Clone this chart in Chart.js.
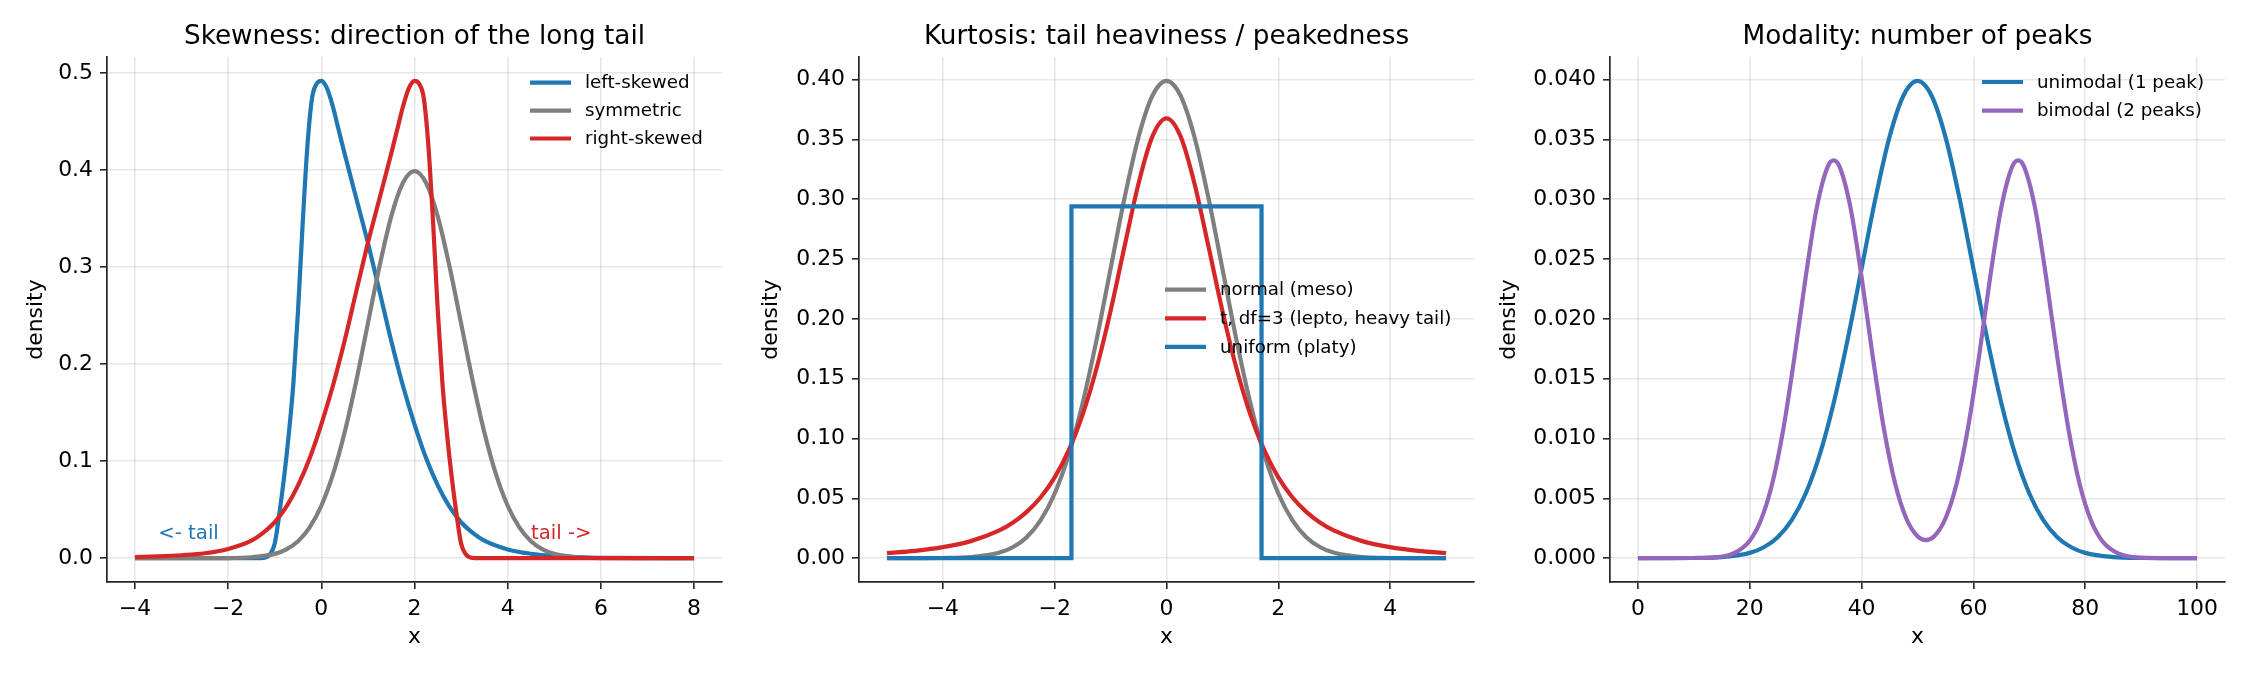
<!DOCTYPE html>
<html>
<head>
<meta charset="utf-8">
<title>Distribution shape</title>
<script src="https://cdn.jsdelivr.net/npm/chart.js@4.4.1/dist/chart.umd.min.js"></script>
<style>
    html, body { margin: 0; padding: 0; background: #ffffff; }
    #figure { position: relative; width: 2250px; height: 675px; overflow: hidden; }
    #figure canvas { position: absolute; top: 0; }
</style>
</head>
<body>
<div id="figure">
    <canvas id="skewChart" width="750" height="675" style="left:0px"></canvas>
    <canvas id="kurtChart" width="750" height="675" style="left:740px"></canvas>
    <canvas id="modeChart" width="760" height="675" style="left:1490px"></canvas>
</div>
<script>
// --- panel 1: skewness ---
const skewLeftX = [-4, -2, -1.5, -1.3, -1.2, -1.1, -1.0, -0.9, -0.8, -0.7, -0.6, -0.5, -0.4, -0.3, -0.2, -0.1, 0, 0.125, 0.25, 0.375, 0.5, 0.75, 1.0, 1.25, 1.5, 1.75, 2.0, 2.25, 2.5, 2.75, 3.0, 3.25, 3.5, 4.0, 4.5, 5.0, 5.5, 6, 8];
const skewLeftY = [0, 0, 0, 0, 0.0006, 0.004, 0.015, 0.046, 0.083, 0.127, 0.18, 0.255, 0.345, 0.424, 0.474, 0.489, 0.492, 0.484, 0.465, 0.441, 0.417, 0.371, 0.325, 0.275, 0.224, 0.178, 0.138, 0.103, 0.075, 0.053, 0.037, 0.026, 0.018, 0.009, 0.0045, 0.002, 0.001, 0.0003, 0];
const symmetricX = [-4, -2, -1.5, -1, -0.75, -0.5, -0.25, 0, 0.25, 0.5, 0.75, 1, 1.25, 1.5, 1.75, 2, 2.25, 2.5, 2.75, 3, 3.25, 3.5, 3.75, 4, 4.25, 4.5, 4.75, 5, 5.5, 6, 8];
const symmetricY = [0, 0.0001, 0.0009, 0.0044, 0.0091, 0.0175, 0.0317, 0.054, 0.0863, 0.1295, 0.1826, 0.242, 0.3011, 0.3521, 0.3867, 0.3989, 0.3867, 0.3521, 0.3011, 0.242, 0.1826, 0.1295, 0.0863, 0.054, 0.0317, 0.0175, 0.0091, 0.0044, 0.0009, 0.0001, 0];
const skewRightX = [-4, -3.5, -3, -2.5, -2, -1.5, -1.25, -1, -0.75, -0.5, -0.25, 0, 0.25, 0.5, 0.75, 1, 1.25, 1.5, 1.625, 1.75, 1.875, 2, 2.1, 2.2, 2.3, 2.4, 2.5, 2.6, 2.7, 2.8, 2.9, 3.0, 3.1, 3.2, 3.3, 3.5, 4, 8];
const skewRightY = [0.001, 0.0018, 0.003, 0.005, 0.0095, 0.018, 0.026, 0.037, 0.053, 0.075, 0.103, 0.138, 0.178, 0.224, 0.275, 0.325, 0.371, 0.417, 0.441, 0.465, 0.484, 0.492, 0.489, 0.474, 0.424, 0.345, 0.255, 0.18, 0.127, 0.083, 0.046, 0.015, 0.004, 0.0006, 0, 0, 0, 0];
const skewXTicks = [-4, -2, 0, 2, 4, 6, 8];
const skewYTicks = [0, 0.1, 0.2, 0.3, 0.4, 0.5];

// --- panel 2: kurtosis ---
const kurtX = [-5, -4.5, -4, -3.5, -3, -2.75, -2.5, -2.25, -2, -1.75, -1.5, -1.25, -1, -0.75, -0.5, -0.25, 0, 0.25, 0.5, 0.75, 1, 1.25, 1.5, 1.75, 2, 2.25, 2.5, 2.75, 3, 3.5, 4, 4.5, 5];
const normalY = [0, 0.00002, 0.00013, 0.00087, 0.00443, 0.00909, 0.01753, 0.03174, 0.05399, 0.08628, 0.12952, 0.18265, 0.24197, 0.30114, 0.35207, 0.38667, 0.39894, 0.38667, 0.35207, 0.30114, 0.24197, 0.18265, 0.12952, 0.08628, 0.05399, 0.03174, 0.01753, 0.00909, 0.00443, 0.00087, 0.00013, 0.00002, 0];
const heavyTailY = [0.00422, 0.00612, 0.00916, 0.01422, 0.0230, 0.02965, 0.0387, 0.0509, 0.0675, 0.0900, 0.1200, 0.1589, 0.2067, 0.2607, 0.3132, 0.3527, 0.3676, 0.3527, 0.3132, 0.2607, 0.2067, 0.1589, 0.1200, 0.0900, 0.0675, 0.0509, 0.0387, 0.02965, 0.0230, 0.01422, 0.00916, 0.00612, 0.00422];
const uniformX = [-5, -1.7, -1.7, 1.7, 1.7, 5];
const uniformY = [0, 0, 0.294, 0.294, 0, 0];
const kurtXTicks = [-4, -2, 0, 2, 4];
const kurtYTicks = [0, 0.05, 0.10, 0.15, 0.20, 0.25, 0.30, 0.35, 0.40];

// --- panel 3: modality ---
const unimodalX = [0, 5, 10, 15, 20, 22.5, 25, 27.5, 30, 32.5, 35, 37.5, 40, 42.5, 45, 47.5, 50, 52.5, 55, 57.5, 60, 62.5, 65, 67.5, 70, 72.5, 75, 77.5, 80, 85, 90, 95, 100];
const unimodalY = [0, 0, 0.00001, 0.00009, 0.00044, 0.00091, 0.00175, 0.00317, 0.0054, 0.00863, 0.01295, 0.01826, 0.0242, 0.03011, 0.03521, 0.03867, 0.03989, 0.03867, 0.03521, 0.03011, 0.0242, 0.01826, 0.01295, 0.00863, 0.0054, 0.00317, 0.00175, 0.00091, 0.00044, 0.00009, 0.00001, 0, 0];
const bimodalX = [0, 10, 14, 17, 20, 22, 24, 26, 28, 30, 32, 34, 35, 36, 38, 40, 42, 44, 46, 48, 50, 51.5, 53, 55, 57, 59, 61, 63, 65, 67, 68, 69, 71, 73, 75, 77, 79, 81, 83, 86, 90, 95, 100];
const bimodalY = [0, 0.00001, 0.00007, 0.00037, 0.00146, 0.00318, 0.00619, 0.01079, 0.01683, 0.02349, 0.02934, 0.03279, 0.03325, 0.03279, 0.02934, 0.02349, 0.01683, 0.0108, 0.00623, 0.00331, 0.00183, 0.00151, 0.00183, 0.00331, 0.00623, 0.0108, 0.01683, 0.02349, 0.02934, 0.03279, 0.03325, 0.03279, 0.02934, 0.02349, 0.01683, 0.01079, 0.00619, 0.00318, 0.00146, 0.00037, 0.00004, 0, 0];
const modeXTicks = [0, 20, 40, 60, 80, 100];
const modeYTicks = [0, 0.005, 0.010, 0.015, 0.020, 0.025, 0.030, 0.035, 0.040];

const BLUE = '#1f77b4';
const GREY = '#7f7f7f';
const RED = '#d62728';
const PURPLE = '#9467bd';
const GRID = 'rgba(176, 176, 176, 0.3)';
const SPINE = '#262626';
const FONT = '"DejaVu Sans", sans-serif';
const BASE_SIZE = 21.9;

Chart.defaults.font.family = FONT;
Chart.defaults.color = '#000';

function fmtTick(value, decimals) {
    return value.toFixed(decimals).replace('-', '\u2212');
}

function toPoints(xs, ys) {
    return xs.map(function (x, i) { return { x: x, y: ys[i] }; });
}

function curve(label, xs, ys, color, extra) {
    return Object.assign({
        label: label,
        data: toPoints(xs, ys),
        borderColor: color,
        backgroundColor: color,
        borderWidth: 4.2,
        borderJoinStyle: 'round',
        pointRadius: 0,
        fill: false,
        cubicInterpolationMode: 'monotone'
    }, extra || {});
}

// title drawn above the plot area, centred on it
const panelTitlePlugin = {
    id: 'panelTitle',
    afterDraw(chart, args, opts) {
        const { ctx, chartArea } = chart;
        ctx.save();
        ctx.font = '26.3px ' + FONT;
        ctx.fillStyle = '#000';
        ctx.textAlign = 'center';
        ctx.textBaseline = 'alphabetic';
        ctx.fillText(opts.text, (chartArea.left + chartArea.right) / 2, 44);
        ctx.restore();
    }
};

// frameless legend like matplotlib's
const panelLegendPlugin = {
    id: 'panelLegend',
    afterDatasetsDraw(chart, args, opts) {
        const ctx = chart.ctx;
        ctx.save();
        ctx.font = '18.25px ' + FONT;
        ctx.textAlign = 'left';
        ctx.textBaseline = 'middle';
        chart.data.datasets.forEach(function (ds, i) {
            const y = opts.y + i * opts.gap;
            ctx.strokeStyle = ds.borderColor;
            ctx.lineWidth = 4.2;
            ctx.beginPath();
            ctx.moveTo(opts.x0, y);
            ctx.lineTo(opts.x0 + 41, y);
            ctx.stroke();
            ctx.fillStyle = '#000';
            ctx.fillText(ds.label, opts.x0 + 55, y + 1);
        });
        ctx.restore();
    }
};

// free text placed in data coordinates
const noteTextPlugin = {
    id: 'noteText',
    afterDatasetsDraw(chart, args, opts) {
        if (!opts.notes) return;
        const ctx = chart.ctx;
        ctx.save();
        ctx.font = '19.7px ' + FONT;
        ctx.textAlign = 'left';
        ctx.textBaseline = 'alphabetic';
        opts.notes.forEach(function (n) {
            ctx.fillStyle = n.color;
            ctx.fillText(n.text, chart.scales.x.getPixelForValue(n.x), chart.scales.y.getPixelForValue(n.y));
        });
        ctx.restore();
    }
};

function buildScales(cfg) {
    const tickFont = { size: BASE_SIZE, family: FONT };
    return {
        x: {
            type: 'linear',
            min: cfg.xMin,
            max: cfg.xMax,
            afterBuildTicks: function (scale) {
                scale.ticks = cfg.xTicks.map(function (v) { return { value: v }; });
            },
            afterFit: function (scale) { scale.height = 93; },
            ticks: {
                callback: function (v) { return fmtTick(v, 0); },
                color: '#000', font: tickFont, padding: 7, maxRotation: 0, autoSkip: false
            },
            grid: { color: GRID, lineWidth: 1.6, tickColor: SPINE, tickLength: 7, tickWidth: 1.6 },
            border: { color: SPINE, width: 1.7 },
            title: { display: true, text: 'x', color: '#000', font: tickFont, padding: { top: 0, bottom: 25 } }
        },
        y: {
            type: 'linear',
            min: cfg.yMin,
            max: cfg.yMax,
            afterBuildTicks: function (scale) {
                scale.ticks = cfg.yTicks.map(function (v) { return { value: v }; });
            },
            afterFit: function (scale) { scale.width = cfg.yWidth; },
            ticks: {
                callback: function (v) { return fmtTick(v, cfg.yDecimals); },
                color: '#000', font: tickFont, padding: 7, autoSkip: false
            },
            grid: { color: GRID, lineWidth: 1.6, tickColor: SPINE, tickLength: 7, tickWidth: 1.6 },
            border: { color: SPINE, width: 1.7 },
            title: { display: true, text: 'density', color: '#000', font: tickFont, padding: { top: cfg.yTitlePad, bottom: 0 } }
        }
    };
}

function createPanel(canvasId, datasets, cfg) {
    const canvas = document.getElementById(canvasId);
    const n = datasets.length;
    // later series sit on top, as in the reference
    datasets.forEach(function (ds, i) { ds.order = n - 1 - i; });

    return new Chart(canvas, {
        type: 'line',
        data: { datasets: datasets },
        options: {
            responsive: false,
            animation: false,
            events: [],
            devicePixelRatio: 1,
            layout: {
                autoPadding: false,
                padding: { left: 0, right: cfg.padRight, top: 57, bottom: 0 }
            },
            scales: buildScales(cfg),
            plugins: {
                legend: { display: false },
                tooltip: { enabled: false },
                panelTitle: { text: cfg.title },
                panelLegend: cfg.legend,
                noteText: { notes: cfg.notes || null }
            }
        },
        plugins: [panelTitlePlugin, panelLegendPlugin, noteTextPlugin]
    });
}

function initFigure() {
    window.skewChart = createPanel('skewChart', [
        curve('left-skewed', skewLeftX, skewLeftY, BLUE),
        curve('symmetric', symmetricX, symmetricY, GREY),
        curve('right-skewed', skewRightX, skewRightY, RED)
    ], {
        title: 'Skewness: direction of the long tail',
        xMin: -4.6, xMax: 8.6, xTicks: skewXTicks,
        yMin: -0.0246, yMax: 0.5166, yTicks: skewYTicks, yDecimals: 1,
        yWidth: 107, yTitlePad: 22.9, padRight: 28,
        legend: { x0: 530, y: 82.7, gap: 27.9 },
        notes: [
            { text: '<- tail', x: -3.5, y: 0.02, color: BLUE },
            { text: 'tail ->', x: 4.5, y: 0.02, color: RED }
        ]
    });

    window.kurtChart = createPanel('kurtChart', [
        curve('normal (meso)', kurtX, normalY, GREY),
        curve('t, df=3 (lepto, heavy tail)', kurtX, heavyTailY, RED),
        curve('uniform (platy)', uniformX, uniformY, BLUE, { cubicInterpolationMode: 'default', tension: 0, borderJoinStyle: 'miter' })
    ], {
        title: 'Kurtosis: tail heaviness / peakedness',
        xMin: -5.5, xMax: 5.5, xTicks: kurtXTicks,
        yMin: -0.01995, yMax: 0.41889, yTicks: kurtYTicks, yDecimals: 2,
        yWidth: 119, yTitlePad: 18.4, padRight: 16,
        legend: { x0: 425, y: 289.7, gap: 28.6 }
    });

    window.modeChart = createPanel('modeChart', [
        curve('unimodal (1 peak)', unimodalX, unimodalY, BLUE),
        curve('bimodal (2 peaks)', bimodalX, bimodalY, PURPLE)
    ], {
        title: 'Modality: number of peaks',
        xMin: -5, xMax: 105, xTicks: modeXTicks,
        yMin: -0.0019947, yMax: 0.041888, yTicks: modeYTicks, yDecimals: 3,
        yWidth: 120, yTitlePad: 6.5, padRight: 25,
        legend: { x0: 492, y: 82, gap: 28.6 }
    });
}

document.addEventListener('DOMContentLoaded', initFigure);
</script>
</body>
</html>
